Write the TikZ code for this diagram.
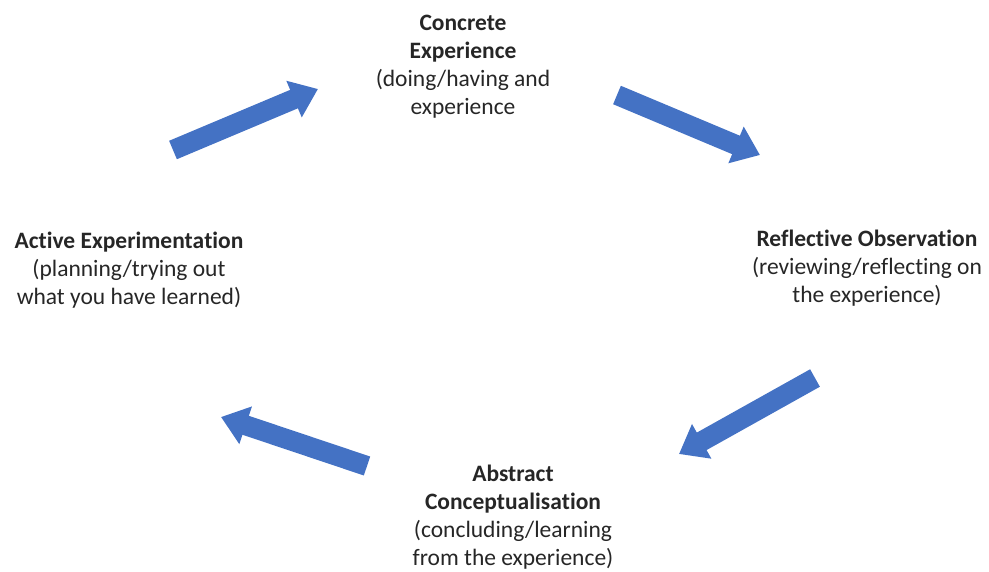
\documentclass[tikz,border=0pt]{standalone}
\usepackage{fontspec}
\setmainfont{Carlito}[Ligatures={NoCommon,NoContextual}]
\usetikzlibrary{arrows.meta}
\definecolor{cycleblue}{HTML}{4472C4}
\definecolor{stagetext}{HTML}{262626}
\tikzset{
  stage/.style={align=center, inner sep=0pt, text=stagetext, font=\fontsize{23.5}{28}\selectfont},
  blockarrow/.style={draw=cycleblue, line width=20pt, -{Triangle[width=38pt, length=26pt]}}
}
\begin{document}
\begin{tikzpicture}[x=1pt, y=-1pt]
			\useasboundingbox (0,0) rectangle (989,571);
			\node[stage] (ce) at (463,67) {\textbf{Concrete}\\\textbf{Experience}\\(doing/having and\\experience};
			\node[stage] (ro) at (867,268) {\textbf{Reflective Observation}\\(reviewing/reflecting on\\the experience)};
			\node[stage] (ac) at (513,517) {\textbf{Abstract}\\\textbf{Concep\kern0ptt\kern0ptualisa\kern0ptt\kern0ption}\\(concluding/learning\\from the experience)};
			\node[stage] (ae) at (129,270) {\textbf{Ac\kern0ptt\kern0ptive Experimenta\kern0ptt\kern0ption}\\(planning/trying out\\what you have learned)};
			\coordinate (ae-out) at (173,150);
			\coordinate (ce-in) at (318,89);
			\coordinate (ce-out) at (617,95);
			\coordinate (ro-in) at (760,155);
			\coordinate (ro-out) at (815,378);
			\coordinate (ac-in) at (679,454);
			\coordinate (ac-out) at (367,466);
			\coordinate (ae-in) at (221,417);
			\draw[blockarrow] (ae-out) -- (ce-in);
			\draw[blockarrow] (ce-out) -- (ro-in);
			\draw[blockarrow] (ro-out) -- (ac-in);
			\draw[blockarrow] (ac-out) -- (ae-in);
		\end{tikzpicture}
\end{document}
